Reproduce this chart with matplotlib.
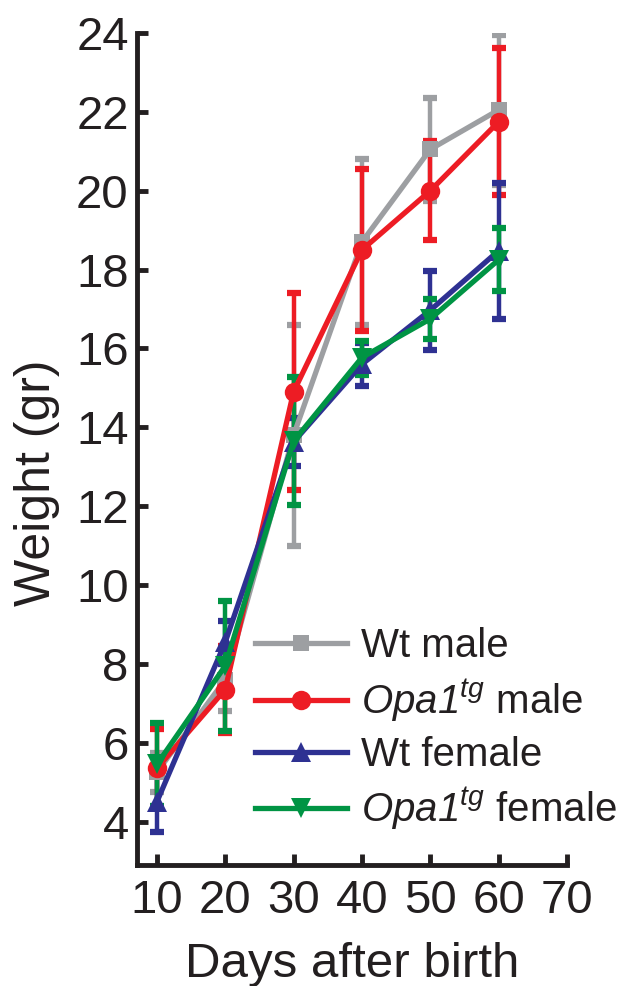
import numpy as np
import matplotlib.pyplot as plt
from matplotlib.lines import Line2D

plt.rcParams['font.family'] = ['Liberation Sans', 'DejaVu Sans']
plt.rcParams['mathtext.fontset'] = 'custom'
# digits inside the math label should be italic too
plt.rcParams['mathtext.rm'] = 'Liberation Sans:italic'
plt.rcParams['mathtext.it'] = 'Liberation Sans:italic'

# days after birth
days = [10, 20, 30, 40, 50, 60]

# mean weight (gr) and error per group
wt_male = [5.25, 7.6, 13.8, 18.7, 21.05, 22.05]
wt_male_err = [0.5, 0.8, 2.8, 2.1, 1.3, 1.9]
opa_male = [5.35, 7.35, 14.9, 18.5, 20.0, 21.75]
opa_male_err = [1.0, 1.1, 2.5, 2.05, 1.25, 1.87]
wt_female = [4.5, 8.55, 13.63, 15.6, 16.97, 18.48]
wt_female_err = [0.75, 0.55, 0.6, 0.55, 1.0, 1.72]
opa_female = [5.45, 7.95, 13.65, 15.77, 16.75, 18.25]
opa_female_err = [1.05, 1.65, 1.63, 0.43, 0.5, 0.8]

labels = ['Wt male', r'$Opa1^{tg}$ male',
          'Wt female', r'$Opa1^{tg}$ female']
colors = ['#9d9fa2', '#ed1c24', '#2e3192', '#009444']
markers = ['s', 'o', '^', 'v']
msizes = [12, 14, 15, 15]

xticks = [10, 20, 30, 40, 50, 60, 70]
yticks = [4, 6, 8, 10, 12, 14, 16, 18, 20, 22, 24]

fig = plt.figure(figsize=(6.22, 9.86), dpi=100)
ax = fig.add_axes([0.2203, 0.1227, 0.6913, 0.8438])

series = [(wt_male, wt_male_err), (opa_male, opa_male_err),
          (wt_female, wt_female_err), (opa_female, opa_female_err)]
handles = []
for (vals, err), lab, c, m, ms in zip(series, labels, colors, markers, msizes):
    eb = ax.errorbar(days, vals, yerr=err, color=c, marker=m, markersize=ms,
                     linewidth=3.8, elinewidth=3.2, capsize=5, capthick=4.5)
    eb[0].set_markeredgewidth(0)
    handles.append(Line2D([], [], color=c, marker=m, markersize=ms,
                          markeredgewidth=0, linewidth=3.8, label=lab))

ax.set_xlim(7.1, 70)
ax.set_ylim(2.9, 24)
ax.set_xticks(xticks)
ax.set_yticks(yticks)
ax.spines['top'].set_visible(False)
ax.spines['right'].set_visible(False)
for s in ['left', 'bottom']:
    ax.spines[s].set_linewidth(3.5)
    ax.spines[s].set_color('#231f20')
ax.tick_params(direction='in', length=8, width=3.5, labelsize=34,
               color='#231f20', labelcolor='#231f20')
ax.tick_params(axis='x', pad=10)
ax.tick_params(axis='y', pad=6)

ax.set_xlabel('Days after birth', fontsize=35.5, color='#231f20', labelpad=14)
ax.set_ylabel('Weight (gr)', fontsize=36, color='#231f20')
ax.yaxis.set_label_coords(-0.179, 0.459)

leg = ax.legend(handles=handles, loc='lower left',
                bbox_to_anchor=(0.236, 0.02), frameon=False,
                fontsize=29, handlelength=2.3, handletextpad=0.35,
                labelspacing=0.3, borderaxespad=0)
for t in leg.get_texts():
    t.set_color('#231f20')

plt.savefig('out.png', dpi=100)
